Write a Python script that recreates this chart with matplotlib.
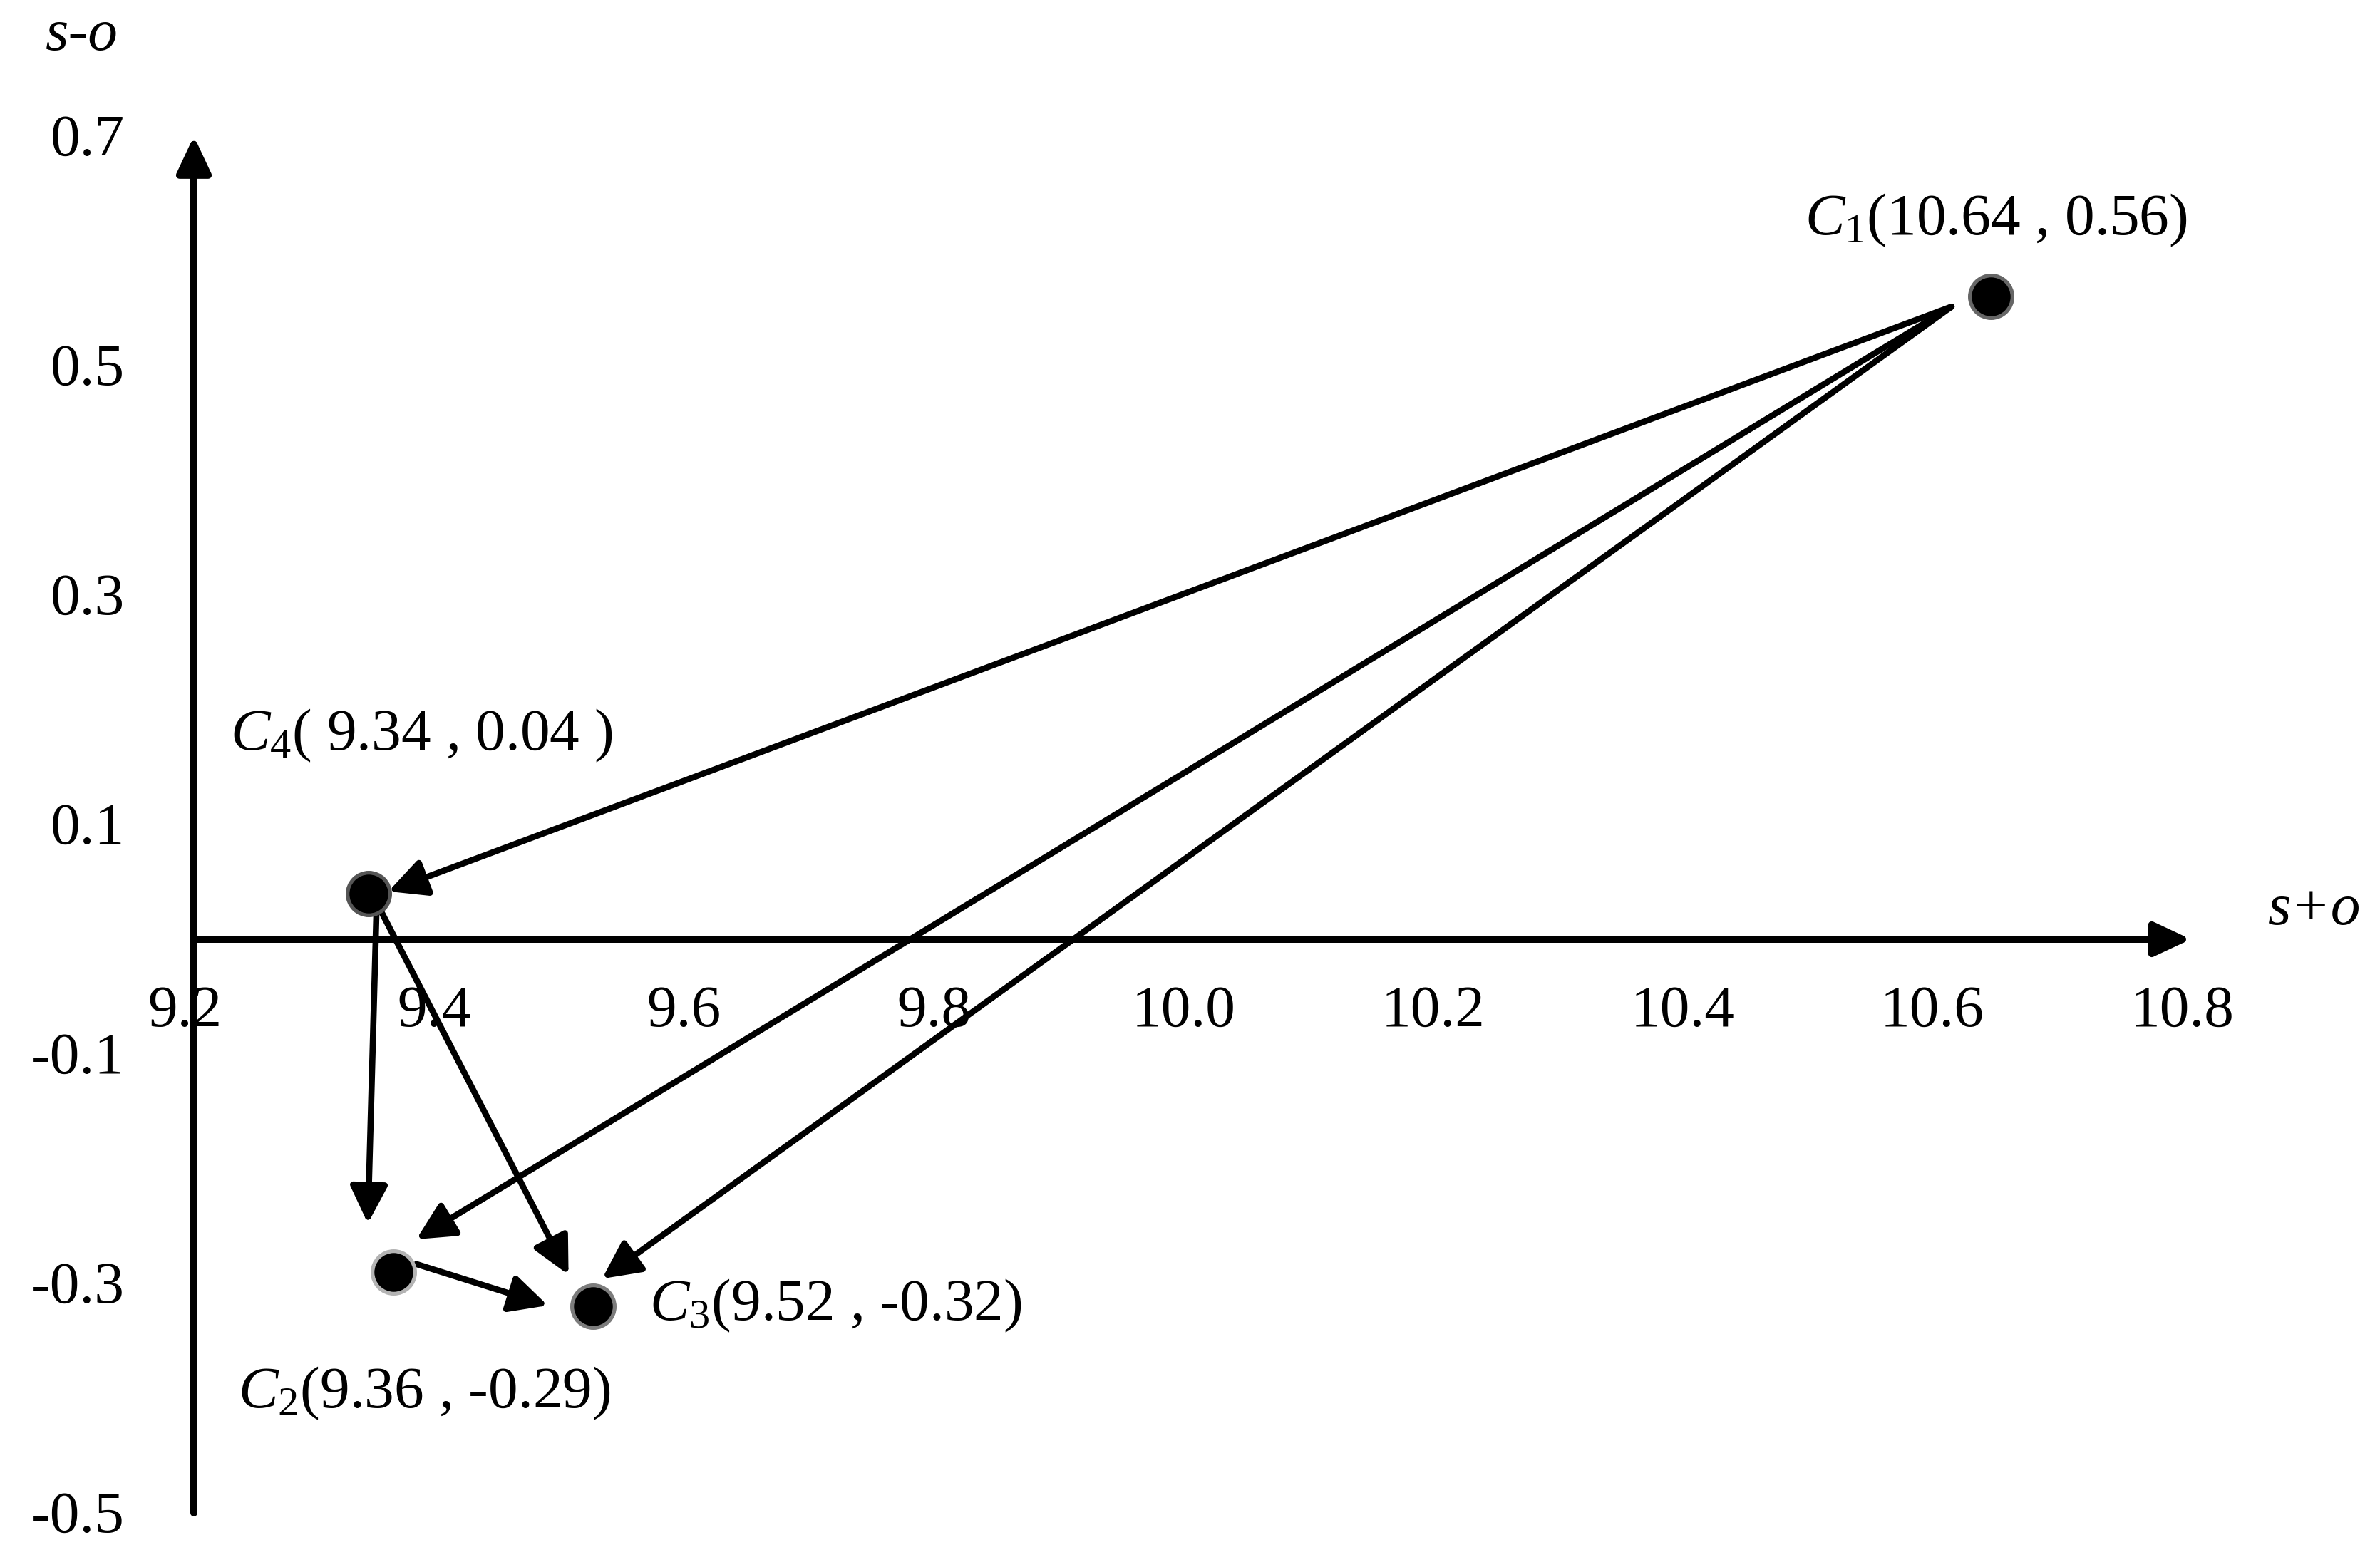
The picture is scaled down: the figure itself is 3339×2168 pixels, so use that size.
#! /usr/bin/python

"""
Cluster centres on the (s+o, s-o) plane and the moves between them.
"""

# LIBRARIES
import matplotlib as mpl
mpl.use("Agg")
import matplotlib.pyplot as plt
from matplotlib.transforms import offset_copy


# AXIS TICKS
X_TICKS = [9.2, 9.4, 9.6, 9.8, 10.0, 10.2, 10.4, 10.6, 10.8]
Y_TICKS = [-0.5, -0.3, -0.1, 0.1, 0.3, 0.5, 0.7]
X_TICK_LABELS = ["9.2", "9.4", "9.6", "9.8", "10.0", "10.2", "10.4", "10.6", "10.8"]
Y_TICK_LABELS = ["-0.5", "-0.3", "-0.1", "0.1", "0.3", "0.5", "0.7"]

# CENTRES (C1, C2, C3, C4)
X = [10.64, 9.36, 9.52, 9.34]
Y = [0.56, -0.29, -0.32, 0.04]
LABELS = [r"$C_1$(10.64 , 0.56)",
          r"$C_2$(9.36 , -0.29)",
          r"$C_3$(9.52 , -0.32)",
          r"$C_4$( 9.34 , 0.04 )"]

# MOVES (from, to) as indices into the centres
MOVES = [(0, 3), (0, 1), (0, 2), (3, 1), (3, 2), (1, 2)]


# STYLE
FONT = "Liberation Serif"
SIZE = 60
EDGES = ["#666666", "#b4b4b4", "#7c7c7c", "#555555"]
# (dx, dy, ha) in points from the centre, text baseline
LABEL_OFFSETS = [(5, 63, "center"), (-157, -137, "left"),
                 (57, -14, "left"), (-140, 145, "left")]
# arrow ends in points from the centres they belong to
START_OFFSETS = [(-40, -10), (-40, -10), (-40, -10),
                 (8, -15), (12, -17), (23, 8)]
TIP_OFFSETS = [(20, 2), (23, 33), (9, 28), (-26, 49), (-25, 32), (-46, 1)]


def shifted(ax, fig, dx, dy):

    """
    Data transform moved by (dx, dy) points.
    """

    return offset_copy(ax.transData, fig = fig, x = dx, y = dy, units = "points")


def plotMoves():

    """
    Draw everything and save it.
    """

    mpl.rcParams["mathtext.fontset"] = "custom"
    mpl.rcParams["mathtext.rm"] = FONT
    mpl.rcParams["mathtext.it"] = FONT + ":italic"

    fig = plt.figure(figsize = (33.39, 21.68), dpi = 100)
    ax = fig.add_axes([0, 0, 1, 1])
    ax.set_xlim(9.04466, 10.95157)
    ax.set_ylim(-0.52795, 0.81863)
    ax.set_axis_off()

    # Axes as arrows
    axis_props = dict(arrowstyle = "-|>,head_length=31,head_width=14.5",
                      mutation_scale = 1, lw = 7.2, color = "black",
                      shrinkA = 0, shrinkB = 0)
    ax.annotate("", xy = (X_TICKS[-1], 0), xytext = (X_TICKS[0], 0),
                arrowprops = axis_props, zorder = 1)
    ax.annotate("", xy = (X_TICKS[0], Y_TICKS[-1]),
                xytext = (X_TICKS[0], Y_TICKS[0]),
                arrowprops = axis_props, zorder = 1)

    # Tick labels
    for v, s in zip(X_TICKS, X_TICK_LABELS):
        ax.annotate(s, xy = (v, 0), xytext = (-9, -88),
                    textcoords = "offset points", ha = "center",
                    va = "baseline", fontsize = SIZE, family = FONT)
    for v, s in zip(Y_TICKS, Y_TICK_LABELS):
        ax.annotate(s, xy = (X_TICKS[0], v), xytext = (-70, -19),
                    textcoords = "offset points", ha = "right",
                    va = "baseline", fontsize = SIZE, family = FONT)

    # Axis names
    fig.text(0.0344, 0.977, "s-o", ha = "center", va = "center",
             fontsize = SIZE, family = FONT, style = "italic")
    fig.text(0.9724, 0.411, "s+o", ha = "center", va = "center",
             fontsize = SIZE, family = FONT, style = "italic")

    # Moves between centres
    for k, (a, b) in enumerate(MOVES):
        ax.annotate("", xy = (X[b], Y[b]),
                    xycoords = shifted(ax, fig, *TIP_OFFSETS[k]),
                    xytext = (X[a], Y[a]),
                    textcoords = shifted(ax, fig, *START_OFFSETS[k]),
                    arrowprops = dict(arrowstyle = "-|>,head_length=32,head_width=16",
                                      mutation_scale = 1, lw = 6.2,
                                      color = "black", shrinkA = 0,
                                      shrinkB = 0),
                    zorder = 2)

    # Centres
    for i in range(len(X)):
        ax.plot(X[i], Y[i], "o", ms = 43, mfc = "black", mec = EDGES[i],
                mew = 3.8, zorder = 3)
        dx, dy, ha = LABEL_OFFSETS[i]
        ax.annotate(LABELS[i], xy = (X[i], Y[i]), xytext = (dx, dy),
                    textcoords = "offset points", ha = ha, va = "baseline",
                    fontsize = SIZE, family = FONT)

    fig.savefig("out.png", dpi = 100, facecolor = "white")


def main():

    plotMoves()


# Run this when script is called from terminal
if __name__ == "__main__":
    main()
